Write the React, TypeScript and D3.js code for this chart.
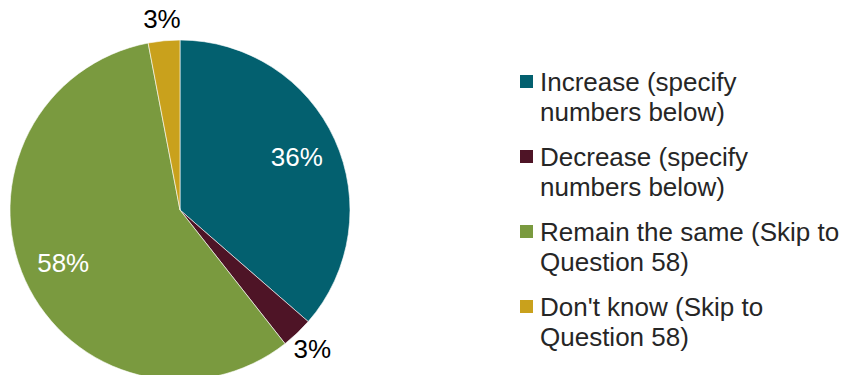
import React from "react";
import * as d3 from "d3";

const categories = [
  "Increase (specify numbers below)",
  "Decrease (specify numbers below)",
  "Remain the same (Skip to Question 58)",
  "Don't know (Skip to Question 58)",
];
const legendLines = [
  ["Increase (specify", "numbers below)"],
  ["Decrease (specify", "numbers below)"],
  ["Remain the same (Skip to", "Question 58)"],
  ["Don't know (Skip to", "Question 58)"],
];
const values = [36.4, 3.0, 57.6, 3.0];
const labels = ["36%", "3%", "58%", "3%"];
const colors = ["#03606F", "#4E1426", "#7A9A3F", "#C9A11C"];

export default function App() {
  const W = 848, H = 375;
  const cx = 180, cy = 210, r = 170;
  const pie = d3.pie<number>().sort(null).value((d) => d)(values);
  const arc = d3.arc<d3.PieArcDatum<number>>().innerRadius(0).outerRadius(r);
  const font = "Liberation Sans, Arial, sans-serif";
  const labelPos = pie.map((p, i) => {
    const a = (p.startAngle + p.endAngle) / 2;
    const big = values[i] > 10;
    const rr = big ? r * 0.755 : r + 22;
    return [Math.sin(a) * rr, -Math.cos(a) * rr];
  });
  return (
    <svg width={W} height={H} style={{ position: "absolute", left: 0, top: 0 }}>
      <g transform={`translate(${cx},${cy})`}>
        {pie.map((p, i) => (
          <path key={i} d={arc(p) || ""} fill={colors[i]} stroke="#fff" strokeWidth={0.6} />
        ))}
        {pie.map((p, i) => (
          <text
            key={"l" + i}
            x={labelPos[i][0]}
            y={labelPos[i][1]}
            textAnchor="middle"
            dominantBaseline="central"
            fontFamily={font}
            fontSize={26}
            fill={values[i] > 10 ? "#fff" : "#000"}
          >
            {labels[i]}
          </text>
        ))}
      </g>
      <g>
        {categories.map((c, i) => {
          const y0 = 82 + i * 75;
          return (
            <g key={c}>
              <rect x={520} y={y0 - 7} width={13} height={13} fill={colors[i]} />
              {legendLines[i].map((ln, j) => (
                <text
                  key={j}
                  x={540}
                  y={y0 + 9 + j * 30}
                  fontFamily={font}
                  fontSize={26}
                  fill="#262626"
                >
                  {ln}
                </text>
              ))}
            </g>
          );
        })}
      </g>
    </svg>
  );
}
